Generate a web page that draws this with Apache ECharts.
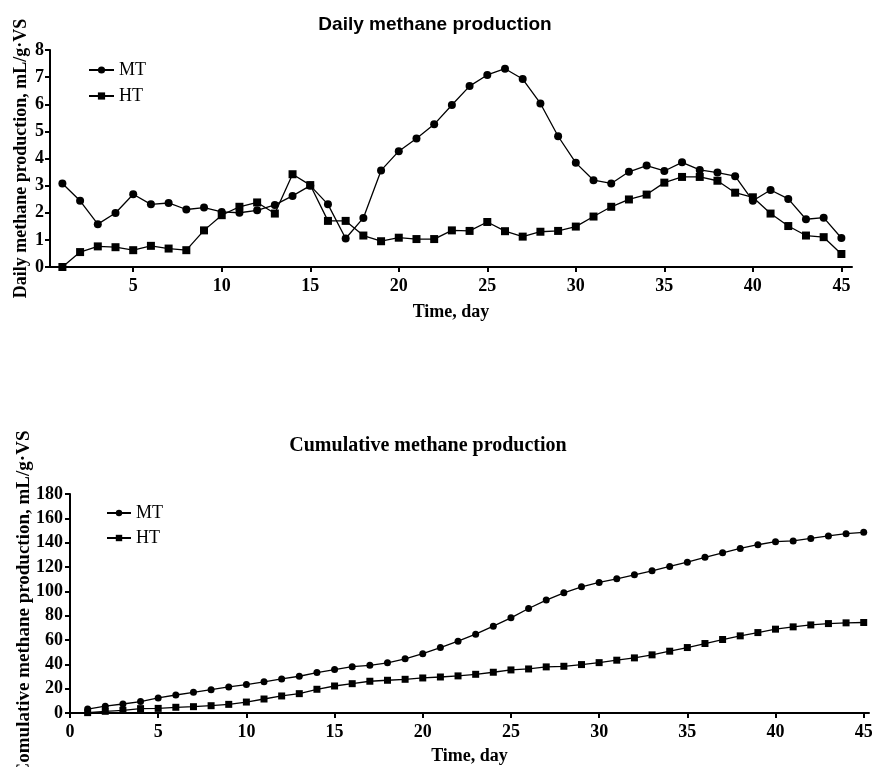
<!DOCTYPE html>
<html>
<head>
<meta charset="utf-8">
<script src="https://cdn.jsdelivr.net/npm/echarts@6/dist/echarts.min.js"></script>
<style>
  html, body { margin: 0; padding: 0; background: #fff; }
  #chart { width: 872px; height: 767px; }
</style>
</head>
<body>
<div id="chart"></div>
<script>
// days 1..45
var days = [];
for (var d = 1; d <= 45; d++) days.push(d);

var dailyMT = [3.08, 2.44, 1.58, 1.99, 2.68, 2.31, 2.36, 2.12, 2.19, 2.03,
  2.0, 2.09, 2.29, 2.62, 3.0, 2.31, 1.05, 1.81, 3.56, 4.27,
  4.74, 5.26, 5.97, 6.67, 7.08, 7.31, 6.93, 6.03, 4.82, 3.84,
  3.2, 3.08, 3.51, 3.74, 3.54, 3.86, 3.58, 3.48, 3.35, 2.44,
  2.84, 2.51, 1.76, 1.82, 1.07]
var dailyHT = [0, 0.55, 0.76, 0.73, 0.62, 0.78, 0.68, 0.62, 1.35, 1.91,
  2.22, 2.38, 1.97, 3.42, 3.02, 1.70, 1.70, 1.16, 0.95, 1.08,
  1.03, 1.03, 1.35, 1.33, 1.66, 1.32, 1.12, 1.30, 1.33, 1.49,
  1.86, 2.22, 2.49, 2.67, 3.11, 3.32, 3.32, 3.18, 2.74, 2.57,
  1.97, 1.51, 1.16, 1.10, 0.48]
var cumMT = [3.2, 5.6, 7.4, 9.4, 12.4, 14.8, 17, 19.2, 21.4, 23.4,
  25.6, 28, 30.2, 33.2, 35.7, 38.1, 39.2, 41.2, 44.5, 48.8,
  53.8, 59, 64.8, 71.4, 78.2, 85.9, 92.8, 98.8, 103.7, 107.3,
  110.3, 113.6, 116.9, 120.5, 124, 128, 131.7, 135.3, 138.3, 140.8,
  141.4, 143.5, 145.5, 147.4, 148.5]
var cumHT = [0.3, 1.4, 2.2, 3.6, 3.8, 4.7, 5.2, 6, 7.1, 9,
  11.5, 14, 15.9, 19.5, 22.2, 24.1, 26.1, 26.9, 27.7, 28.8,
  29.6, 30.5, 31.8, 33.5, 35.4, 36.2, 37.9, 38.4, 39.8, 41.4,
  43.4, 45.3, 47.8, 50.8, 53.8, 57.1, 60.4, 63.4, 66.1, 68.9,
  70.8, 72.4, 73.5, 74.1, 74.4]

var topXTicks = [5, 10, 15, 20, 25, 30, 35, 40, 45]
var bottomXTicks = [0, 5, 10, 15, 20, 25, 30, 35, 40, 45]

function pairs(y) {
  return days.map(function (d, i) { return [d, y[i]] })
}

var serif = 'Liberation Serif'
var axisLine = { lineStyle: { color: '#000', width: 2 } }
var axisTick = { show: true, inside: false, length: 5, lineStyle: { color: '#000', width: 2 } }
var labelStyle = { color: '#000', fontFamily: serif, fontWeight: 'bold', fontSize: 18 }
var nameStyle = { color: '#000', fontFamily: serif, fontWeight: 'bold', fontSize: 18 }

function lineSeries(name, data, symbol, size, axisIdx) {
  return {
    name: name,
    type: 'line',
    xAxisIndex: axisIdx,
    yAxisIndex: axisIdx,
    data: pairs(data),
    symbol: symbol,
    symbolSize: size,
    showSymbol: true,
    itemStyle: { color: '#000' },
    lineStyle: { color: '#000', width: 1.3 },
    animation: false
  }
}

var chart = echarts.init(document.getElementById('chart'))
chart.setOption({
  backgroundColor: '#fff',
  title: [{
    text: 'Daily methane production',
    left: 430,
    textAlign: 'center',
    top: 10,
    textStyle: { color: '#000', fontFamily: 'Liberation Sans', fontWeight: 'bold', fontSize: 19 }
  }, {
    text: 'Cumulative methane production',
    left: 423,
    textAlign: 'center',
    top: 431,
    textStyle: { color: '#000', fontFamily: serif, fontWeight: 'bold', fontSize: 20 }
  }],
  legend: [{
    orient: 'vertical',
    left: 83,
    top: 56,
    itemGap: 8,
    itemWidth: 25,
    itemHeight: 9,
    data: ['MT', 'HT'],
    textStyle: { color: '#000', fontFamily: serif, fontSize: 18 }
  }, {
    orient: 'vertical',
    left: 101,
    top: 499,
    itemGap: 7,
    itemWidth: 24,
    itemHeight: 8,
    data: ['MT', 'HT'],
    textStyle: { color: '#000', fontFamily: serif, fontSize: 18 }
  }],
  grid: [
    { left: 50, right: 20, top: 50, height: 217, outerBoundsMode: 'none' },
    { left: 70, right: 3, top: 494, height: 219, outerBoundsMode: 'none' }
  ],
  xAxis: [{
    type: 'value',
    gridIndex: 0,
    min: 0.3,
    max: 45.6,
    name: 'Time, day',
    nameLocation: 'middle',
    nameGap: 36,
    nameTextStyle: nameStyle,
    splitLine: { show: false },
    axisLine: axisLine,
    axisTick: Object.assign({ customValues: topXTicks }, axisTick),
    axisLabel: Object.assign({ customValues: topXTicks, margin: 10 }, labelStyle)
  }, {
    type: 'value',
    gridIndex: 1,
    min: 0,
    max: 45.3,
    name: 'Time, day',
    nameLocation: 'middle',
    nameGap: 34,
    nameTextStyle: nameStyle,
    splitLine: { show: false },
    axisLine: axisLine,
    axisTick: Object.assign({ customValues: bottomXTicks }, axisTick),
    axisLabel: Object.assign({ customValues: bottomXTicks, margin: 10 }, labelStyle)
  }],
  yAxis: [{
    type: 'value',
    gridIndex: 0,
    min: 0,
    max: 8,
    interval: 1,
    name: 'Daily methane production, mL/g·VS',
    nameLocation: 'middle',
    nameGap: 20,
    nameMoveOverlap: false,
    nameTextStyle: nameStyle,
    splitLine: { show: false },
    axisLine: axisLine,
    axisTick: axisTick,
    axisLabel: Object.assign({ margin: 6 }, labelStyle)
  }, {
    type: 'value',
    gridIndex: 1,
    min: 0,
    max: 180,
    interval: 20,
    name: 'Comulative methane production, mL/g·VS',
    nameLocation: 'middle',
    nameGap: 36,
    nameMoveOverlap: false,
    nameTextStyle: Object.assign({}, nameStyle, { fontSize: 19 }),
    splitLine: { show: false },
    axisLine: axisLine,
    axisTick: axisTick,
    axisLabel: Object.assign({ margin: 7 }, labelStyle)
  }],
  series: [
    lineSeries('MT', dailyMT, 'circle', 8, 0),
    lineSeries('HT', dailyHT, 'rect', 8, 0),
    lineSeries('MT', cumMT, 'circle', 7, 1),
    lineSeries('HT', cumHT, 'rect', 7, 1)
  ]
})
</script>
</body>
</html>
